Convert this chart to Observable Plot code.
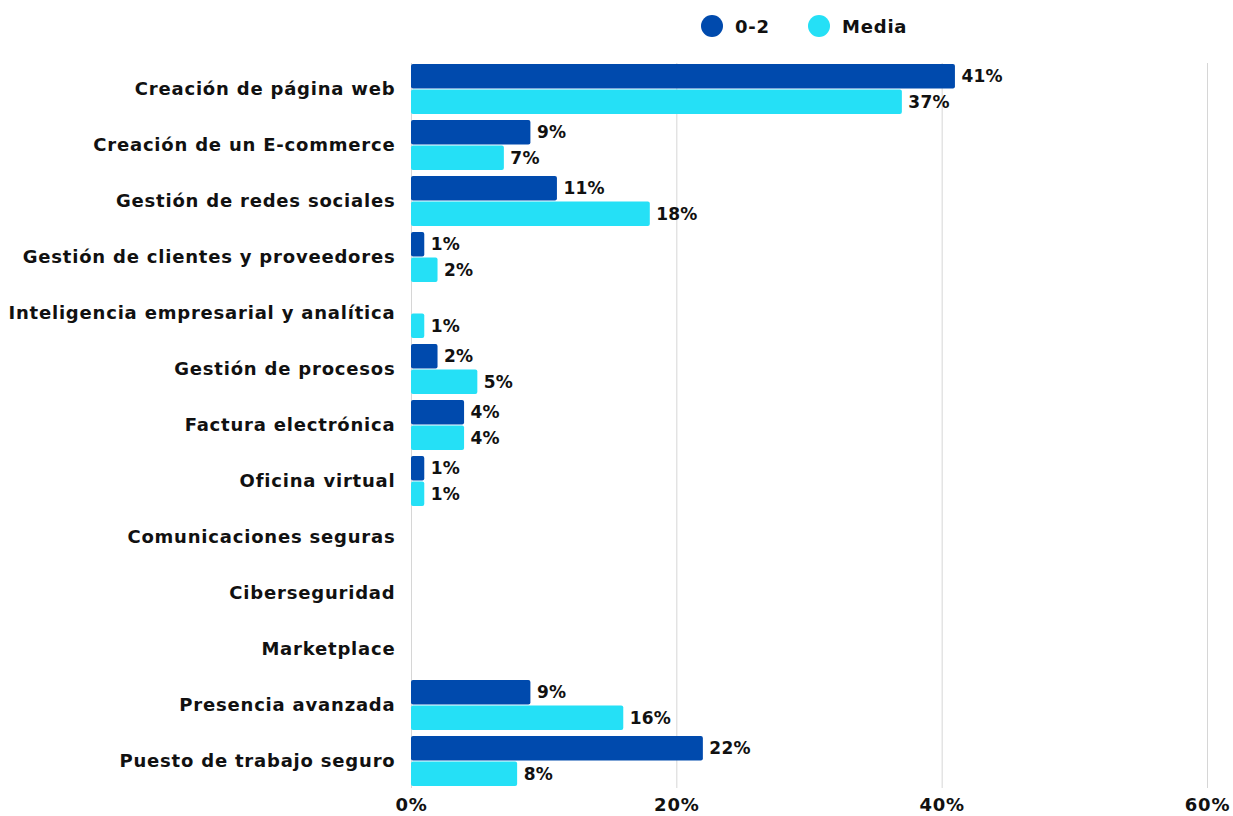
<!DOCTYPE html>
<html>
<head>
<meta charset="utf-8">
<script src="https://cdn.jsdelivr.net/npm/d3@7"></script>
<script src="https://cdn.jsdelivr.net/npm/@observablehq/plot@0.6"></script>
<style>
  body { margin: 0; background: #fff; font-family: "DejaVu Sans", sans-serif; }
  #legend { height: 50px; position: relative; font-weight: 700; font-size: 18px; color: #111; letter-spacing: 0.8px; }
  .item { position: absolute; top: 15px; display: flex; align-items: center; }
  .dot { width: 22px; height: 22px; border-radius: 50%; margin-right: 12px; }
  g[aria-label="y-axis tick label"] text { letter-spacing: 0.8px; }
  g[aria-label="x-axis tick label"] text { letter-spacing: 0.8px; }
  g[aria-label="text"] text { letter-spacing: 0.2px; }
</style>
</head>
<body>
<div id="legend"></div>
<div id="chart"></div>
<script>
const categories = [
  "Creación de página web",
  "Creación de un E-commerce",
  "Gestión de redes sociales",
  "Gestión de clientes y proveedores",
  "Inteligencia empresarial y analítica",
  "Gestión de procesos",
  "Factura electrónica",
  "Oficina virtual",
  "Comunicaciones seguras",
  "Ciberseguridad",
  "Marketplace",
  "Presencia avanzada",
  "Puesto de trabajo seguro"
];
const series = ["0-2", "Media"];
const values02 = [41, 9, 11, 1, 0, 2, 4, 1, 0, 0, 0, 9, 22];
const valuesMedia = [37, 7, 18, 2, 1, 5, 4, 1, 0, 0, 0, 16, 8];
const xTicks = [0, 20, 40, 60];
const colors = ["#004AAD", "#25E0F6"];

const d02 = categories.map((c, i) => ({cat: c, v: values02[i]}));
const dMedia = categories.map((c, i) => ({cat: c, v: valuesMedia[i]}));

// legend
const legend = document.getElementById("legend");
const lx = [701, 808];
series.forEach((s, i) => {
  const el = document.createElement("div");
  el.className = "item";
  el.style.left = lx[i] + "px";
  el.innerHTML = `<span class="dot" style="background:${colors[i]}"></span><span>${s}</span>`;
  legend.appendChild(el);
});

const font = "DejaVu Sans, sans-serif";
const chart = Plot.plot({
  width: 1233,
  height: 766,
  marginLeft: 411,
  marginRight: 26,
  marginTop: 7,
  marginBottom: 23,
  style: {fontFamily: font, fontSize: "18px", fontWeight: 700, color: "#111", background: "transparent"},
  x: {domain: [0, 60], ticks: xTicks, tickFormat: d => d + "%", label: null, tickSize: 0, tickPadding: 4},
  y: {domain: categories, padding: 0.1, label: null, tickSize: 0, tickPadding: 16},
  marks: [
    Plot.gridX(xTicks, {stroke: "#d6d6d6", strokeOpacity: 1, insetTop: 6, insetBottom: 5}),
    Plot.barX(d02.filter(d => d.v > 0), {x: "v", y: "cat", fill: colors[0], insetBottom: 25.5, rx: 2}),
    Plot.barX(dMedia.filter(d => d.v > 0), {x: "v", y: "cat", fill: colors[1], insetTop: 25.5, rx: 2}),
    Plot.text(d02.filter(d => d.v > 0), {x: "v", y: "cat", text: d => d.v + "%", dx: 6, dy: -12.5, textAnchor: "start", fill: "#111", fontSize: 17, fontWeight: 700}),
    Plot.text(dMedia.filter(d => d.v > 0), {x: "v", y: "cat", text: d => d.v + "%", dx: 6, dy: 13, textAnchor: "start", fill: "#111", fontSize: 17, fontWeight: 700}),
    Plot.axisX({ticks: xTicks, tickFormat: d => d + "%", tickSize: 0, tickPadding: 5, label: null, fontSize: 18}),
    Plot.axisY({tickSize: 0, tickPadding: 16, label: null, fontSize: 18})
  ]
});
document.getElementById("chart").appendChild(chart);
</script>
</body>
</html>
